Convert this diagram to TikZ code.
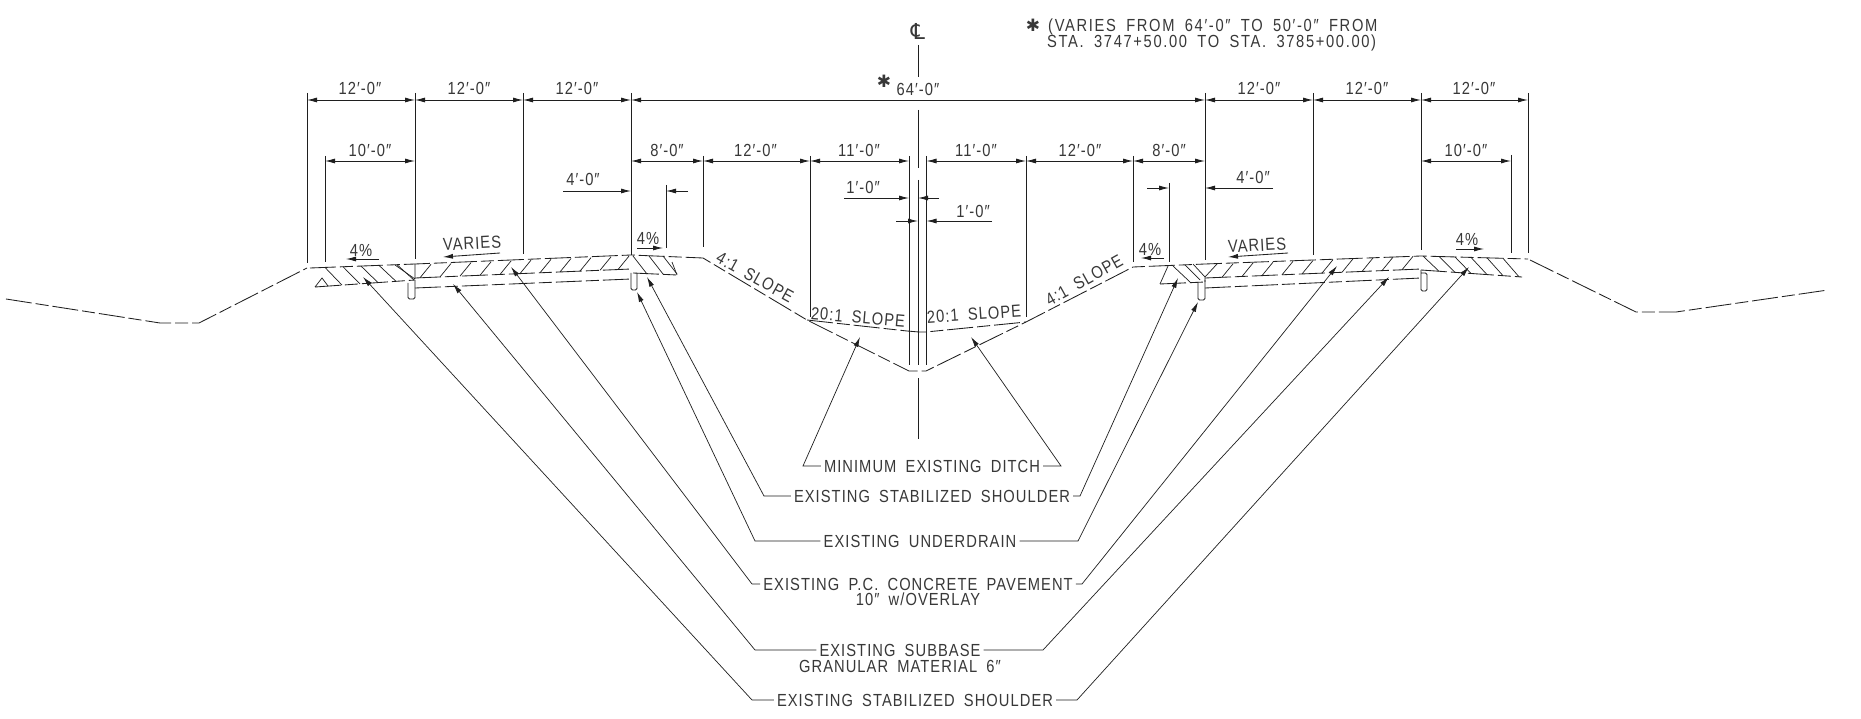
\documentclass[tikz,border=0pt]{standalone}
\usepackage{fontspec}
\usetikzlibrary{arrows.meta}
\setmainfont[FakeStretch=0.84,LetterSpace=6,WordSpace=1.8]{Liberation Sans}
\newfontfamily\djv{DejaVu Sans}
\definecolor{ink}{gray}{0.12}
\definecolor{tink}{gray}{0.22}
\tikzset{
  lw/.style={line width=0.85pt,draw=ink},
  dimline/.style={lw,{Latex[length=10pt,width=5pt]}-{Latex[length=10pt,width=5pt]}},
  onearrow/.style={lw,-{Latex[length=10pt,width=5pt]}},
  extline/.style={lw},
  surf/.style={lw,dash pattern=on 26pt off 4pt on 13pt off 4pt},
  hatchline/.style={line width=0.7pt,draw=ink},
  txt/.style={font=\fontsize{17.5}{17.5}\selectfont,text=tink,inner sep=3pt,text height=12.5pt,text depth=0pt,anchor=center},
  lead/.style={line width=0.7pt,draw=ink,-{Latex[length=10pt,width=5pt]}},
  starmark/.style={font=\djv\fontsize{17}{17}\selectfont,text=tink,inner sep=0pt},
}
\begin{document}
\begin{tikzpicture}[x=1pt,y=-1pt]
\useasboundingbox[fill=white] (0,0) rectangle (1861,719);
% centre line
\node[txt,font=\djv\fontsize{22}{22}\selectfont] (cl) at (918,33) {℄};
\draw[extline] (918,45)--(918,77) (918,110)--(918,168) (918,180)--(918,365) (918,378)--(918,439);
% extension lines
\draw[extline] (307,93)--(307,263) (325,156)--(325,262) (415,93)--(415,259) (523,93)--(523,254) (631,93)--(631,255)
 (666,185)--(666,248) (703,156)--(703,247) (810,156)--(810,317) (909,156)--(909,365) (926.5,156)--(926.5,365)
 (1026,156)--(1026,317) (1133,156)--(1133,262) (1169,183)--(1169,262) (1205,93)--(1205,260)
 (1313,93)--(1313,255) (1421,93)--(1421,250) (1511,155)--(1511,253) (1528,93)--(1528,253);
% top dimensions
\foreach \a/\b in {307/415,415/523,523/631,631/1205,1205/1313,1313/1421,1421/1528}
  \draw[dimline] (\a,100)--(\b,100);
\foreach \a/\b in {325/415,631/703,703/810,810/909,926.5/1026,1026/1133,1133/1205,1421/1511}
  \draw[dimline] (\a,161)--(\b,161);
% texts of dimensions
\foreach \n/\x in {ta/360,tb/469,tc/577,td/1259,te/1367,tf/1474}
  \node[txt] (\n) at (\x,88) {12′-0″};
\node[txt] (tm) at (918,89) {64′-0″};
\node[starmark] (tms) at (884,81) {✱};
\node[txt] (da) at (370,150) {10′-0″};
\node[txt] (db) at (667,150) {8′-0″};
\node[txt] (dc) at (755.5,150) {12′-0″};
\node[txt] (dd) at (859,150) {11′-0″};
\node[txt] (de) at (976,150) {11′-0″};
\node[txt] (df) at (1080,150) {12′-0″};
\node[txt] (dg) at (1169,150) {8′-0″};
\node[txt] (dh) at (1466,150) {10′-0″};
% 4'-0"
\node[txt] (fa) at (583,179) {4′-0″};
\draw[onearrow] (563,191)--(631,191);
\draw[onearrow] (688,191)--(666,191);
\node[txt] (fb) at (1253,177) {4′-0″};
\draw[onearrow] (1273,188)--(1205,188);
\draw[onearrow] (1147,188)--(1169,188);
% 1'-0"
\node[txt] (oa) at (863,187) {1′-0″};
\draw[onearrow] (844,198)--(909,198);
\draw[onearrow] (939,198)--(918,198);
\node[txt] (ob) at (973,211) {1′-0″};
\draw[onearrow] (992,221)--(926.5,221);
\draw[onearrow] (896,221)--(918,221);
% percent and varies
\node[txt] (pa) at (361,250) {4\%};
\draw[onearrow] (379,259)--(346,259);
\node[txt] (pb) at (648,238) {4\%};
\draw[onearrow] (637,248)--(663,248);
\node[txt] (pc) at (1150,249) {4\%};
\draw[onearrow] (1164,258)--(1141,258);
\node[txt] (pd) at (1467,239) {4\%};
\draw[onearrow] (1456,249)--(1484,249);
\node[txt,rotate=3] (va) at (472,243) {VARIES};
\draw[onearrow] (500,253)--(443,257);
\node[txt,rotate=3] (vb) at (1257,245) {VARIES};
\draw[onearrow] (1288,253)--(1228,257);
% slopes
\node[txt,rotate=-29] (sa) at (755,277) {4:1 SLOPE};
\node[txt,rotate=-5] (sb) at (858,317) {20:1 SLOPE};
\node[txt,rotate=4] (sc) at (974,314) {20:1 SLOPE};
\node[txt,rotate=29] (sd) at (1084,280) {4:1 SLOPE};
% note
\node[starmark] (nstar) at (1033,25) {✱};
\node[txt,anchor=west,inner sep=0pt,font=\fontsize{17.5}{17.5}\selectfont\addfontfeatures{LetterSpace=9.5}] (na) at (1048,25) {(VARIES FROM 64′-0″ TO 50′-0″ FROM};
\node[txt,anchor=west,inner sep=0pt,font=\fontsize{17.5}{17.5}\selectfont\addfontfeatures{LetterSpace=9.5}] (nb) at (1047,41) {STA. 3747+50.00 TO STA. 3785+00.00)};
% ground and surface
\draw[surf] (6,299)--(160,323)--(199,323)--(307,268);
\draw[surf] (310,268)--(415,264)--(631,255)--(703,258)--(807,320)--(909,371)--(926,371)--(1026,322)--(1133,267)--(1205,264)--(1421,256)--(1528,259);
\draw[surf] (1530,260)--(1636,312)--(1676,312)--(1828,290);
\draw[surf] (807,320)--(907,331)--(919,332)--(926,332)--(1026,322);
% layer bottoms
\draw[surf] (315,287)--(415,280);
\draw[surf] (415,278)--(631,269);
\draw[surf] (415,288)--(631,279);
\draw[surf] (633,273)--(677,275);
\draw[surf] (1160,284)--(1205,282);
\draw[surf] (1205,278)--(1421,269);
\draw[surf] (1205,288)--(1421,278);
\draw[surf] (1421,270)--(1522,277);
% hatching
\foreach \x in {325,343,361,379,397}
  \draw[hatchline] (\x,{268-(\x-310)*4/105})--(\x+17,{287-(\x+17-315)*7/100});
\draw[hatchline] (315,287)--(322,278)--(328,286);
\foreach \x in {420,440,460,480,500,520,540,560,580,600,618}
  \draw[hatchline] (\x,{278-(\x-415)*9/216})--(\x+11,{264+1-(\x+11-415)*9/216});
\foreach \x in {1222,1242,1262,1282,1302,1322,1342,1362,1382,1402}
  \draw[hatchline] (\x,{278-(\x-1205)*9/216})--(\x+11,{264+1-(\x+11-1205)*9/216});
\foreach \x in {633,649,663}
  \draw[hatchline] (\x,{256})--(\x+14,274);
\draw[hatchline] (677,275)--(672,262);
\foreach \x in {1423,1439,1455,1471,1487,1503}
  \draw[hatchline] (\x,{256+(\x-1421)*3/106})--(\x+16,{270+(\x+16-1421)*7/101});
\draw[hatchline] (1160,284)--(1168,266) (1173,266)--(1190,282) (1185,265)--(1200,280)
  (1193,264)--(1205,277) (1217,264)--(1205,277) (1205,277)--(1205,282);
\draw[hatchline] (395,265)--(415,279) (415,279)--(415,264);
% underdrains
\draw[lw,rounded corners=1.5pt] (408,283)--(408,299)--(415,299)--(415,280);
\draw[lw,rounded corners=1.5pt] (631,273)--(631,290)--(637,290)--(637,273);
\draw[lw,rounded corners=1.5pt] (1198,282)--(1198,300)--(1205,300)--(1205,280);
\draw[lw,rounded corners=1.5pt] (1421,270)--(1421,291)--(1427,291)--(1427,273)--(1421,273);
% leader labels
\node[txt] (ditch) at (932,466) {MINIMUM EXISTING DITCH};
\node[txt] (shA) at (932,496) {EXISTING STABILIZED SHOULDER};
\node[txt] (drain) at (920,541) {EXISTING UNDERDRAIN};
\node[txt] (pcc) at (918,584) {EXISTING P.C. CONCRETE PAVEMENT};
\node[txt] (pccb) at (918,599) {10″ w/OVERLAY};
\node[txt] (sub) at (900,650) {EXISTING SUBBASE};
\node[txt] (subb) at (900,666) {GRANULAR MATERIAL 6″};
\node[txt] (shB) at (915,700) {EXISTING STABILIZED SHOULDER};
% elbows and tips
\coordinate (e1) at (803,466); \coordinate (t1) at (860,337);
\coordinate (e2) at (1061,466); \coordinate (t2) at (971,337);
\coordinate (e3) at (764,496); \coordinate (t3) at (647,277);
\coordinate (e4) at (1080,496); \coordinate (t4) at (1178,278);
\coordinate (e5) at (755,541); \coordinate (t5) at (637,292);
\coordinate (e6) at (1078,541); \coordinate (t6) at (1198,302);
\coordinate (e7) at (752,584); \coordinate (t7) at (511,267);
\coordinate (e8) at (1082,584); \coordinate (t8) at (1337,266);
\coordinate (e9) at (755,650); \coordinate (t9) at (453,284);
\coordinate (e10) at (1043,650); \coordinate (t10) at (1389,277);
\coordinate (e11) at (752,700); \coordinate (t11) at (363,277);
\coordinate (e12) at (1077,700); \coordinate (t12) at (1469,267);
\foreach \l/\e/\t in {ditch/e1/t1,shA/e3/t3,drain/e5/t5,pcc/e7/t7,sub/e9/t9,shB/e11/t11}
  \draw[lead] (\l.west)--(\e)--(\t);
\foreach \l/\e/\t in {ditch/e2/t2,shA/e4/t4,drain/e6/t6,pcc/e8/t8,sub/e10/t10,shB/e12/t12}
  \draw[lead] (\l.east)--(\e)--(\t);
\end{tikzpicture}
\end{document}
